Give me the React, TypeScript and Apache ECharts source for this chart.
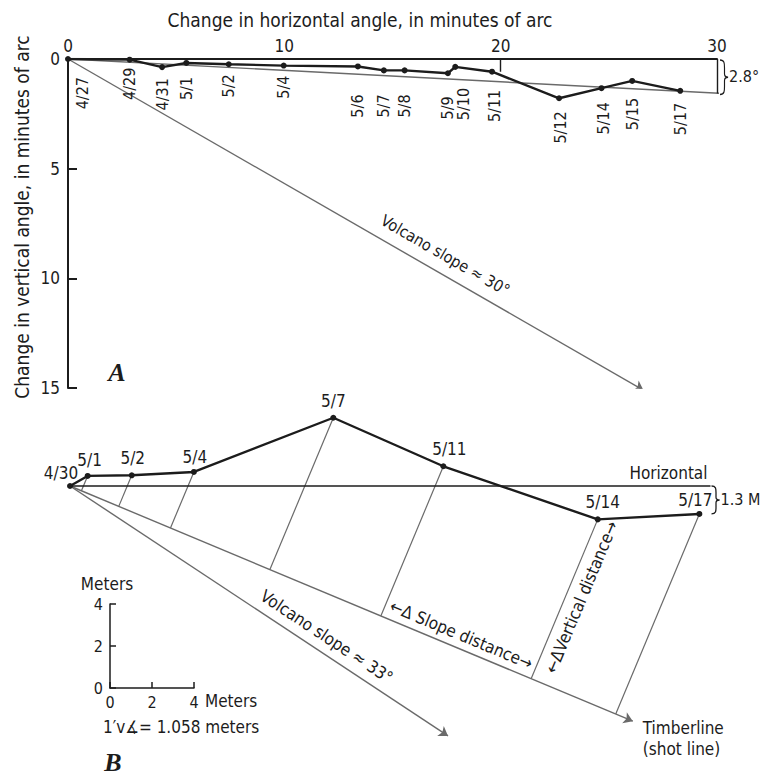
import React, { useEffect, useRef } from 'react';
import * as echarts from 'echarts';

const FONT = "'Liberation Sans Narrow', 'Arial Narrow', 'DejaVu Sans Condensed', sans-serif";
const SERIF = "'Liberation Serif', 'DejaVu Serif', serif";
const INK = '#1c1c1c';
const GRAY = '#6a6a6a';

// ---------------- Panel A: angle changes (minutes of arc) ----------------
const aDates = ['4/27', '4/29', '4/31', '5/1', '5/2', '5/4', '5/6', '5/7', '5/8', '5/9', '5/10', '5/11', '5/12', '5/14', '5/15', '5/17'];
const aHoriz = [0, 2.85, 4.35, 5.47, 7.43, 9.97, 13.4, 14.6, 15.56, 17.56, 17.9, 19.6, 22.7, 24.66, 26.08, 28.3];
const aVert = [0, 0.03, 0.37, 0.18, 0.24, 0.3, 0.34, 0.52, 0.52, 0.65, 0.36, 0.58, 1.79, 1.33, 1.0, 1.45];
const aTrendEnd = [30.2, 1.57];
const aSlopeEnd = [26.6, 15.1];
const aExtraTicks = [20];
const aTiltLabel = '2.8°';
const aSlopeLabel = 'Volcano slope ≈ 30°';
const aXTitle = 'Change in horizontal angle, in minutes of arc';
const aYTitle = 'Change in vertical angle, in minutes of arc';
// label placement: [dx px, gap px below point]
const aLabelShift = [[14, 18], [0, 8], [0, 11], [0, 14], [0, 10], [0, 10], [0, 28], [0, 24], [0, 24], [0, 23], [8, 21], [2, 18], [1, 13], [2, 14], [0, 17], [0, 12]];

// ---------------- Panel B: positions (meters) ----------------
const bDates = ['4/30', '5/1', '5/2', '5/4', '5/7', '5/11', '5/14', '5/17'];
const bEast = [0, 0.84, 2.94, 5.9, 12.54, 17.78, 25.13, 29.97];
const bUp = [0, 0.48, 0.51, 0.67, 3.25, 0.94, -1.59, -1.33];
const bShotEnd = [26.8, -11.2];
const bSlopeEnd = [18.0, -11.9];
const bHorizontalEnd = 30.5;
const bDropLabel = '1.3 M';
const bSlopeLabel = 'Volcano slope ≈ 33°';
const bLabelShift = [[-9, -13], [2, -16], [1, -17], [1, -15], [0, -17], [6, -17], [5, -17], [-4, -14]];

echarts.graphic.registerShape(
  'brace',
  echarts.graphic.extendPath('M0,0 C5,0 5,3 5,7 L5,12 C5,14 6,15 9,15 C6,15 5,16 5,18 L5,23 C5,27 5,30 0,30', {})
);

export default function App() {
  const ref = useRef<HTMLDivElement>(null);
  useEffect(() => {
    const el = ref.current!;
    const chart = echarts.init(el, null, { renderer: 'svg' });

    const sx = bShotEnd[0], sy = bShotEnd[1];
    const L2 = sx * sx + sy * sy;
    const feet = bEast.map((x, i) => {
      const t = (x * sx + bUp[i] * sy) / L2;
      return [t * sx, t * sy];
    });

    const axisFont = { fontFamily: FONT, fontSize: 17, color: INK };

    chart.setOption({
      animation: false,
      backgroundColor: '#fff',
      textStyle: { fontFamily: FONT },
      grid: [
        { left: 68, top: 59, width: 649, height: 329 },
        { left: 70, top: 381, width: 651, height: 378 },
        { left: 110, top: 604, width: 84, height: 84 },
      ],
      xAxis: [
        {
          gridIndex: 0, type: 'value', position: 'top', min: 0, max: 30, interval: 10,
          axisLine: { show: true, onZero: false, lineStyle: { color: INK, width: 2 } },
          axisTick: { show: false }, splitLine: { show: false },
          axisLabel: { ...axisFont, margin: 5 },
        },
        { gridIndex: 1, type: 'value', min: 0, max: 31, show: false },
        {
          gridIndex: 2, type: 'value', min: 0, max: 4, interval: 2, position: 'bottom',
          axisLine: { show: true, onZero: false, lineStyle: { color: INK, width: 1.5 } },
          axisTick: { show: true, inside: true, length: 6, lineStyle: { color: INK, width: 1.5 } },
          splitLine: { show: false },
          axisLabel: { ...axisFont, fontSize: 16, margin: 6 },
        },
      ],
      yAxis: [
        {
          gridIndex: 0, type: 'value', inverse: true, min: 0, max: 15, interval: 5,
          axisLine: { show: true, onZero: false, lineStyle: { color: INK, width: 2 } },
          axisTick: { show: true, inside: true, length: 9, lineStyle: { color: INK, width: 2 } },
          splitLine: { show: false },
          axisLabel: { ...axisFont, margin: 8 },
        },
        { gridIndex: 1, type: 'value', min: -13, max: 5, show: false },
        {
          gridIndex: 2, type: 'value', min: 0, max: 4, interval: 2,
          axisLine: { show: true, onZero: false, lineStyle: { color: INK, width: 1.5 } },
          axisTick: { show: true, inside: true, length: 6, lineStyle: { color: INK, width: 1.5 } },
          splitLine: { show: false },
          axisLabel: { ...axisFont, fontSize: 16, margin: 7 },
        },
      ],
      series: [
        {
          type: 'lines', coordinateSystem: 'cartesian2d', xAxisIndex: 0, yAxisIndex: 0, silent: true,
          symbol: ['none', 'arrow'], symbolSize: 9, z: 2,
          lineStyle: { color: GRAY, width: 1.4, opacity: 1 },
          data: [{ coords: [[0, 0], aSlopeEnd] }],
        },
        {
          type: 'line', xAxisIndex: 0, yAxisIndex: 0, symbol: 'none', silent: true, z: 2,
          lineStyle: { color: GRAY, width: 1.4 },
          data: [[0, 0], aTrendEnd],
        },
        {
          type: 'lines', coordinateSystem: 'cartesian2d', xAxisIndex: 0, yAxisIndex: 0, silent: true,
          symbol: 'none', z: 3,
          lineStyle: { color: INK, width: 1.4, opacity: 1 },
          data: [
            { coords: [[30, 0], [30, aTrendEnd[1]]] },
            ...aExtraTicks.map((t) => ({ coords: [[t, 0], [t, 0.58]] })),
          ],
        },
        {
          type: 'line', xAxisIndex: 0, yAxisIndex: 0, silent: true, z: 5,
          symbol: 'circle', symbolSize: 6,
          lineStyle: { color: INK, width: 2.4 }, itemStyle: { color: INK },
          data: aHoriz.map((x, i) => [x, aVert[i]]),
        },
        // Panel B
        {
          type: 'lines', coordinateSystem: 'cartesian2d', xAxisIndex: 1, yAxisIndex: 1, silent: true,
          symbol: ['none', 'arrow'], symbolSize: 9, z: 2,
          lineStyle: { color: GRAY, width: 1.4, opacity: 1 },
          data: [{ coords: [[0, 0], bShotEnd] }, { coords: [[0, 0], bSlopeEnd] }],
        },
        {
          type: 'lines', coordinateSystem: 'cartesian2d', xAxisIndex: 1, yAxisIndex: 1, silent: true,
          symbol: 'none', z: 2,
          lineStyle: { color: GRAY, width: 1.2, opacity: 1 },
          data: bEast.slice(1).map((x, k) => ({ coords: [[x, bUp[k + 1]], feet[k + 1]] })),
        },
        {
          type: 'line', xAxisIndex: 1, yAxisIndex: 1, symbol: 'none', silent: true, z: 3,
          lineStyle: { color: INK, width: 1.6 },
          data: [[0, 0], [bHorizontalEnd, 0]],
        },
        {
          type: 'line', xAxisIndex: 1, yAxisIndex: 1, silent: true, z: 5,
          symbol: 'circle', symbolSize: 6,
          lineStyle: { color: INK, width: 2.4 }, itemStyle: { color: INK },
          data: bEast.map((x, i) => [x, bUp[i]]),
        },
      ],
    });

    const P = (g: number, v: number[]) => chart.convertToPixel({ gridIndex: g }, v) as number[];
    const txt = (text: string, x: number, y: number, o: any = {}) => ({
      type: 'text', x, y, rotation: o.rotation || 0, z: 10,
      style: {
        text, fill: INK, fontFamily: o.fontFamily || FONT, fontSize: o.fontSize || 16,
        fontWeight: o.fontWeight || 'normal', fontStyle: o.fontStyle || 'normal',
        align: o.align || 'center', verticalAlign: o.verticalAlign || 'middle',
        textAlign: o.align || 'center', textVerticalAlign: o.verticalAlign || 'middle',
        lineHeight: o.lineHeight,
      },
    });
    const along = (p0: number[], p1: number[], frac: number, off: number) => {
      const dx = p1[0] - p0[0], dy = p1[1] - p0[1];
      const L = Math.hypot(dx, dy);
      const ux = dx / L, uy = dy / L;
      return { x: p0[0] + ux * L * frac + uy * off, y: p0[1] + uy * L * frac - ux * off, rot: -Math.atan2(dy, dx) };
    };

    const g: any[] = [];
    // titles
    g.push(txt(aXTitle, 360, 20, { fontSize: 19 }));
    g.push(txt(aYTitle, 22, 217, { fontSize: 19, rotation: Math.PI / 2 }));
    // A date labels
    aDates.forEach((d, i) => {
      const [px, py] = P(0, [aHoriz[i], aVert[i]]);
      const [dx, gap] = aLabelShift[i];
      g.push(txt(d, px + dx, py + gap, { rotation: Math.PI / 2, align: 'right', fontSize: 16 }));
    });
    // A slope label
    {
      const a = along(P(0, [0, 0]), P(0, aSlopeEnd), 0.64, 18);
      g.push(txt(aSlopeLabel, a.x, a.y, { rotation: a.rot, fontSize: 16 }));
    }
    // A tilt brace
    {
      const top = P(0, [30, 0]);
      const bot = P(0, [30, aTrendEnd[1]]);
      const h = bot[1] - top[1];
      g.push({ type: 'brace', x: top[0] + 3, y: top[1] + 1, scaleX: 0.9, scaleY: h / 30, z: 10, style: { stroke: INK, fill: 'none', lineWidth: 1.3, strokeNoScale: true } });
      g.push(txt(aTiltLabel, top[0] + 12, (top[1] + bot[1]) / 2, { align: 'left', fontSize: 16 }));
    }
    g.push(txt('A', 117, 372, { fontFamily: SERIF, fontSize: 26, fontWeight: 'bold', fontStyle: 'italic' }));

    // B date labels
    bDates.forEach((d, i) => {
      const [px, py] = P(1, [bEast[i], bUp[i]]);
      const [dx, dy] = bLabelShift[i];
      g.push(txt(d, px + dx, py + dy, { fontSize: 17 }));
    });
    // Horizontal label and drop brace
    {
      const h = P(1, [bHorizontalEnd, 0]);
      g.push(txt('Horizontal', h[0] - 3, h[1] - 13, { align: 'right', fontSize: 17 }));
      const last = bDates.length - 1;
      const lp = P(1, [bHorizontalEnd, bUp[last]]);
      const hh = lp[1] - h[1];
      g.push({ type: 'brace', x: h[0] + 1, y: h[1], scaleX: 0.9, scaleY: hh / 30, z: 10, style: { stroke: INK, fill: 'none', lineWidth: 1.3, strokeNoScale: true } });
      g.push(txt(bDropLabel, h[0] + 10, (h[1] + lp[1]) / 2, { align: 'left', fontSize: 16 }));
    }
    // B slope label
    {
      const a = along(P(1, [0, 0]), P(1, bSlopeEnd), 0.656, 16);
      g.push(txt(bSlopeLabel, a.x, a.y, { rotation: a.rot, fontSize: 17 }));
    }
    // Timberline label
    {
      const e = P(1, bShotEnd);
      g.push(txt('Timberline\n(shot line)', e[0] + 10, e[1] - 4, { align: 'left', verticalAlign: 'top', fontSize: 17, lineHeight: 21 }));
    }
    // Delta slope distance (between feet of 5/11 and 5/14)
    {
      const f1 = P(1, feet[5]);
      const f2 = P(1, feet[6]);
      const mid = along(f1, f2, 0.5, 13.8);
      g.push(txt('←Δ Slope distance→', mid.x, mid.y, { rotation: mid.rot, fontSize: 17 }));
      // Delta vertical distance (along drop from 5/14)
      const pt = P(1, [bEast[6], bUp[6]]);
      const dx = pt[0] - f2[0], dy = pt[1] - f2[1];
      const L = Math.hypot(dx, dy);
      const ux = dx / L, uy = dy / L;
      const cx = (pt[0] + f2[0]) / 2 + ux * 8.4 - uy * 14.9;
      const cy = (pt[1] + f2[1]) / 2 + uy * 8.4 + ux * 14.9;
      g.push(txt('←ΔVertical distance→', cx, cy, { rotation: -Math.atan2(dy, dx), fontSize: 17 }));
    }
    // scale box texts
    {
      const top = P(2, [0, 4]);
      g.push(txt('Meters', top[0] - 3, top[1] - 20, { fontSize: 17 }));
      const r = P(2, [4, 0]);
      g.push(txt('Meters', r[0] + 11, r[1] + 13, { align: 'left', fontSize: 17 }));
      const o = P(2, [0, 0]);
      g.push(txt('1′v∡= 1.058 meters', o[0] - 7, o[1] + 39, { align: 'left', fontSize: 17 }));
    }
    g.push(txt('B', 113, 762, { fontFamily: SERIF, fontSize: 26, fontWeight: 'bold', fontStyle: 'italic' }));

    chart.setOption({ graphic: g });
    return () => chart.dispose();
  }, []);
  return <div ref={ref} style={{ position: 'fixed', left: 0, top: 0, width: 763, height: 782, background: '#fff' }} />;
}
